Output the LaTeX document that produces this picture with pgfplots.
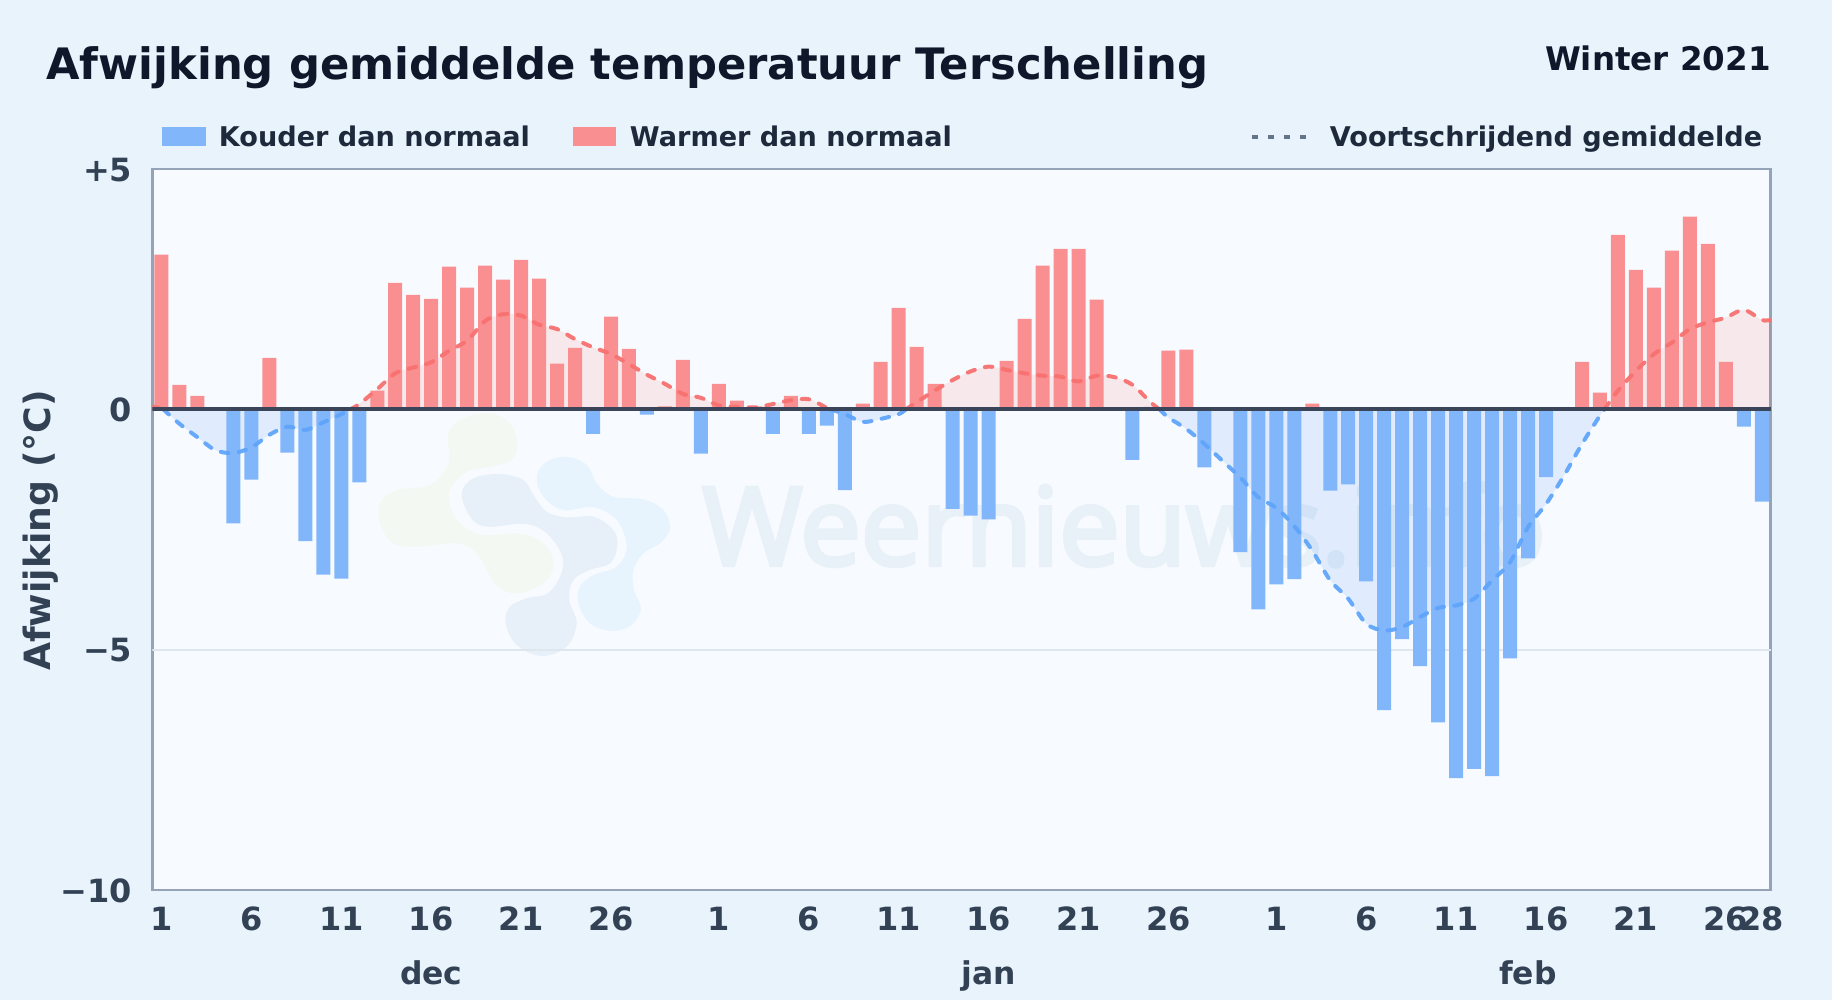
\documentclass[border=0pt]{standalone}
\usepackage{fontspec}
\setmainfont{DejaVu Sans}[BoldFont={DejaVu Sans Bold}]
\newfontfamily\wmfont[FakeBold=4]{Open Sans}
\usepackage{pgfplots}
\usepackage{pgfplotstable}
\pgfplotsset{compat=1.18}
\definecolor{pagebg}{HTML}{E8F3FC}
\definecolor{plotbg}{HTML}{F7FBFF}
\definecolor{coldbar}{HTML}{82B6FB}
\definecolor{warmbar}{HTML}{F98F90}
\definecolor{coldline}{HTML}{60A5FA}
\definecolor{warmline}{HTML}{F87171}
\definecolor{coldarea}{HTML}{3B82F6}
\definecolor{warmarea}{HTML}{EF4444}
\definecolor{frame}{HTML}{94A3B8}
\definecolor{zeroline}{HTML}{3B4559}
\definecolor{gridc}{HTML}{DFE7EE}
\definecolor{titlec}{HTML}{0F172A}
\definecolor{legc}{HTML}{1E293B}
\definecolor{tickc}{HTML}{334155}
\definecolor{dotc}{HTML}{64748B}
\definecolor{wmc}{HTML}{E8F0F8}
\definecolor{logog}{HTML}{F3F9F2}
\definecolor{logon}{HTML}{E7F0F8}
\definecolor{logob}{HTML}{E7F4FE}

% x = day index (0 = 1 dec), cold and warm = daily anomaly
\pgfplotstableread{
x cold warm
0 0 3.22
1 0 0.51
2 0 0.28
3 0 0
4 -2.37 0
5 -1.46 0
6 0 1.07
7 -0.90 0
8 -2.74 0
9 -3.44 0
10 -3.52 0
11 -1.52 0
12 0 0.39
13 0 2.63
14 0 2.38
15 0 2.30
16 0 2.97
17 0 2.53
18 0 2.99
19 0 2.70
20 0 3.11
21 0 2.72
22 0 0.95
23 0 1.28
24 -0.51 0
25 0 1.93
26 0 1.26
27 -0.11 0
28 0 0.06
29 0 1.03
30 -0.92 0
31 0 0.53
32 0 0.18
33 0 0.06
34 -0.51 0
35 0 0.28
36 -0.51 0
37 -0.34 0
38 -1.68 0
39 0 0.12
40 0 0.99
41 0 2.11
42 0 1.30
43 0 0.53
44 -2.07 0
45 -2.21 0
46 -2.29 0
47 0 1.01
48 0 1.88
49 0 2.99
50 0 3.34
51 0 3.34
52 0 2.28
53 0 0
54 -1.05 0
55 0 0.05
56 0 1.22
57 0 1.24
58 -1.21 0
59 0 0
60 -2.97 0
61 -4.16 0
62 -3.64 0
63 -3.53 0
64 0 0.12
65 -1.69 0
66 -1.56 0
67 -3.58 0
68 -6.26 0
69 -4.78 0
70 -5.34 0
71 -6.51 0
72 -7.67 0
73 -7.48 0
74 -7.63 0
75 -5.18 0
76 -3.10 0
77 -1.41 0
78 0 0.03
79 0 0.99
80 0 0.35
81 0 3.63
82 0 2.90
83 0 2.53
84 0 3.30
85 0 4.01
86 0 3.44
87 0 0.99
88 -0.36 0
89 -1.92 0
}\daily

% moving average, with its crossings of zero as rows
\pgfplotstableread{
x v
-0.5 0.06
0.1 0
1 -0.30
2 -0.58
3 -0.85
4 -0.91
5 -0.79
6 -0.53
7 -0.36
8 -0.43
9 -0.27
10 -0.10
10.5 0
11 0.11
12 0.42
13 0.75
14 0.87
15 0.98
16 1.22
17 1.43
18 1.84
19 1.98
20 1.95
21 1.76
22 1.67
23 1.46
24 1.29
25 1.15
26 0.94
27 0.72
28 0.53
29 0.32
30 0.24
31 0.08
32 0.055
33 0.04
34 0.11
35 0.19
36 0.21
37 0.03
37.2 0
38 -0.10
39 -0.26
40 -0.20
41 -0.10
41.4 0
42 0.15
43 0.39
44 0.61
45 0.79
46 0.89
47 0.82
48 0.75
49 0.70
50 0.68
51 0.58
52 0.70
53 0.67
54 0.51
55 0.15
55.5 0
56 -0.17
57 -0.41
58 -0.72
59 -1.07
60 -1.42
61 -1.83
62 -2.05
63 -2.43
64 -2.94
65 -3.56
66 -3.94
67 -4.46
68 -4.60
69 -4.53
70 -4.32
71 -4.13
72 -4.08
73 -3.94
74 -3.56
75 -3.18
76 -2.45
77 -1.97
78 -1.38
79 -0.72
80 -0.13
80.25 0
81 0.39
82 0.80
83 1.15
84 1.39
85 1.67
86 1.81
87 1.91
88 2.07
89 1.86
89.5 1.86
}\ma

\pgfplotsset{
  wl/.style={smooth,warmline,line width=2pt,line cap=round,dash pattern=on 3.8pt off 5.2pt,opacity=0.95,forget plot},
  cl/.style={smooth,coldline,line width=2pt,line cap=round,dash pattern=on 3.8pt off 5.2pt,opacity=0.95,forget plot},
  wa/.style={smooth,draw=none,fill=warmarea,fill opacity=0.1,forget plot},
  ca/.style={smooth,draw=none,fill=coldarea,fill opacity=0.12,forget plot},
}

\begin{document}
\begin{tikzpicture}
\path[use as bounding box,fill=pagebg] (0,0) rectangle (916pt,-500pt);
\begin{scope}[x=0.5pt,y=-0.5pt]
  \fill[plotbg] (152.5,168.5) rectangle (1770.8,890);
  % watermark
  \node[anchor=base west,inner sep=0,text=wmc,font=\wmfont\fontsize{54}{54}\selectfont] at (702,565) {Weernieuws.info};
  \begin{scope}[shift={(360,400)},x=0.16667pt,y=-0.16667pt]
    \fill[logog] plot[smooth cycle,tension=0.6] coordinates {(265,100)(310,55)(390,40)(450,70)(472,130)(455,180)(390,200)(320,215)(275,260)(268,310)(300,370)(370,405)(480,400)(550,430)(582,490)(555,545)(480,580)(420,565)(385,520)(350,460)(290,430)(180,440)(100,430)(60,370)(60,310)(110,270)(210,255)(265,190)};
    \fill[logon] plot[smooth cycle,tension=0.6] coordinates {(305,280)(340,235)(420,222)(490,240)(520,285)(560,335)(620,352)(700,350)(760,390)(772,440)(750,490)(690,510)(640,540)(628,600)(650,670)(620,740)(545,768)(470,735)(437,670)(450,620)(500,595)(570,575)(610,490)(570,410)(500,372)(380,380)(330,350)};
    \fill[logob] plot[smooth cycle,tension=0.6] coordinates {(530,230)(560,185)(620,170)(680,195)(710,250)(760,290)(850,298)(910,330)(930,385)(900,430)(850,460)(820,510)(822,570)(843,625)(815,675)(755,693)(690,670)(655,610)(660,560)(700,525)(770,500)(800,440)(770,360)(700,322)(610,330)(550,290)};
  \end{scope}
  % title
  \node[anchor=base west,inner sep=0,text=titlec,font=\bfseries\fontsize{21.65}{21.65}\selectfont] at (46,80) {Afwijking gemiddelde temperatuur Terschelling};
  \node[anchor=base east,inner sep=0,text=titlec,font=\bfseries\fontsize{16.25}{16.25}\selectfont] at (1771,70.5) {Winter 2021};
  % legend
  \fill[coldbar] (162,127) rectangle (206,146);
  \node[anchor=base west,inner sep=0,text=legc,font=\bfseries\fontsize{13.56}{13.56}\selectfont] at (218.5,146.5) {Kouder dan normaal};
  \fill[warmbar] (573,127) rectangle (616,146);
  \node[anchor=base west,inner sep=0,text=legc,font=\bfseries\fontsize{13.56}{13.56}\selectfont] at (629.5,146.5) {Warmer dan normaal};
  \draw[dotc,line width=1.8pt,dash pattern=on 3pt off 5pt] (1252,137) -- (1307,137);
  \node[anchor=base west,inner sep=0,text=legc,font=\bfseries\fontsize{13.56}{13.56}\selectfont] at (1329.5,146.5) {Voortschrijdend gemiddelde};
  % y label
  \node[rotate=90,anchor=center,inner sep=0,text=tickc,font=\bfseries\fontsize{18.1}{18.1}\selectfont] at (40.5,530.5) {Afwijking (°C)};
\end{scope}
\begin{axis}[
  at={(76.25pt,-445pt)},anchor=south west,
  scale only axis,width=809.15pt,height=360.5pt,
  xmin=-0.5,xmax=89.5,ymin=-10,ymax=5,
  axis line style={frame,line width=1.4pt},
  axis on top=false,
  major tick length=0pt,
  xtick={0,5,10,15,20,25,31,36,41,46,51,56,62,67,72,77,82,87,89},
  xticklabels={1,6,11,16,21,26,1,6,11,16,21,26,1,6,11,16,21,26,28},
  ytick={-10,-5,0,5},
  yticklabels={−10,−5,0,+5},
  tick label style={text=tickc,font=\bfseries\fontsize{16}{16}\selectfont},
  xticklabel style={anchor=center,yshift=-14.5pt},
  yticklabel style={anchor=east,inner sep=0pt,xshift=-10pt,yshift=-0.4pt},
  clip=true,
  ybar,bar width=7pt,
  clip mode=individual,
  legend style={draw=none},
]
\addplot[sharp plot,gridc,line width=0.85pt,forget plot] coordinates {(-0.5,-5)(89.5,-5)};
% areas below the moving average
\addplot[wa,sharp plot,restrict x to domain=-0.5:0.1] table[x=x,y=v]{\ma} \closedcycle;
\addplot[ca,restrict x to domain=0.1:10.5] table[x=x,y=v]{\ma} \closedcycle;
\addplot[wa,restrict x to domain=10.5:37.2] table[x=x,y=v]{\ma} \closedcycle;
\addplot[ca,restrict x to domain=37.2:41.4] table[x=x,y=v]{\ma} \closedcycle;
\addplot[wa,restrict x to domain=41.4:55.5] table[x=x,y=v]{\ma} \closedcycle;
\addplot[ca,restrict x to domain=55.5:80.25] table[x=x,y=v]{\ma} \closedcycle;
\addplot[wa,restrict x to domain=80.25:89.5] table[x=x,y=v]{\ma} \closedcycle;
% daily bars
\addplot[ybar,bar shift=0pt,draw=none,fill=coldbar,forget plot] table[x=x,y=cold]{\daily};
\addplot[ybar,bar shift=0pt,draw=none,fill=warmbar,forget plot] table[x=x,y=warm]{\daily};
% moving average
\addplot[wl,restrict x to domain=-0.5:0.1] table[x=x,y=v]{\ma};
\addplot[cl,restrict x to domain=0.1:10.5] table[x=x,y=v]{\ma};
\addplot[wl,restrict x to domain=10.5:37.2] table[x=x,y=v]{\ma};
\addplot[cl,restrict x to domain=37.2:41.4] table[x=x,y=v]{\ma};
\addplot[wl,restrict x to domain=41.4:55.5] table[x=x,y=v]{\ma};
\addplot[cl,restrict x to domain=55.5:80.25] table[x=x,y=v]{\ma};
\addplot[wl,restrict x to domain=80.25:89.5] table[x=x,y=v]{\ma};
% zero line
\addplot[sharp plot,zeroline,line width=1.9pt,forget plot] coordinates {(-0.5,0)(89.5,0)};
% months
\node[text=tickc,font=\bfseries\fontsize{15.7}{15.7}\selectfont,anchor=base,inner sep=0] at (axis cs:15,-10) [yshift=-47pt] {dec};
\node[text=tickc,font=\bfseries\fontsize{15.7}{15.7}\selectfont,anchor=base,inner sep=0] at (axis cs:46,-10) [yshift=-47pt] {jan};
\node[text=tickc,font=\bfseries\fontsize{15.7}{15.7}\selectfont,anchor=base,inner sep=0] at (axis cs:76,-10) [yshift=-47pt] {feb};
\end{axis}
\end{tikzpicture}
\end{document}
